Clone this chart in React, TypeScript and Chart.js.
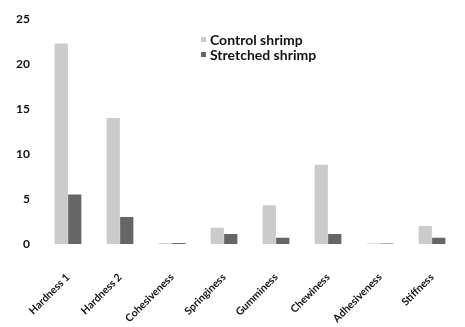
import React, { useEffect, useRef } from "react";
import { Chart, registerables } from "chart.js";

Chart.register(...registerables);

const categories = ["Hardness 1", "Hardness 2", "Cohesiveness", "Springiness", "Gumminess", "Chewiness", "Adhesiveness", "Stiffness"];
const controlShrimp = [22.3, 14.0, 0.1, 1.8, 4.3, 8.8, 0.05, 2.0];
const stretchedShrimp = [5.5, 3.0, 0.1, 1.1, 0.7, 1.1, 0.05, 0.7];
const seriesNames = ["Control shrimp", "Stretched shrimp"];
const yTicks = [0, 5, 10, 15, 20, 25];

const CONTROL_COLOR = "#cbcbcb";
const STRETCHED_COLOR = "#666666";

export default function App() {
  const ref = useRef<HTMLCanvasElement | null>(null);
  useEffect(() => {
    document.body.style.margin = "0";
    const canvas = ref.current;
    if (!canvas) return;
    const chart = new Chart(canvas, {
      type: "bar",
      data: {
        labels: categories,
        datasets: [
          { label: seriesNames[0], data: controlShrimp, backgroundColor: CONTROL_COLOR, categoryPercentage: 0.52, barPercentage: 0.98 },
          { label: seriesNames[1], data: stretchedShrimp, backgroundColor: STRETCHED_COLOR, categoryPercentage: 0.52, barPercentage: 0.98 },
        ],
      },
      options: {
        responsive: false,
        animation: false,
        layout: { padding: { top: 13, left: 14, right: 7, bottom: 0 } },
        plugins: { legend: { display: false }, tooltip: { enabled: false } },
        scales: {
          y: {
            min: yTicks[0],
            max: yTicks[yTicks.length - 1],
            afterBuildTicks: (axis: any) => { axis.ticks = yTicks.map((v) => ({ value: v })); },
            afterFit: (s: any) => { s.width = 28; },
            grid: { display: false, drawTicks: false },
            border: { display: false },
            ticks: { color: "#111", font: { family: "Lato", size: 12, weight: "bold" }, padding: 12 },
          },
          x: {
            afterFit: (s: any) => { s.paddingLeft = 0; s.paddingRight = 0; s.height = 83; },
            grid: { display: false },
            border: { display: false },
            ticks: { color: "#111", font: { family: "Lato", size: 10.5, weight: "bold" }, maxRotation: 45, minRotation: 45, padding: 19 },
          },
        },
      },
    });
    return () => chart.destroy();
  }, []);
  return (
    <div style={{ position: "relative", width: 465, height: 327, background: "#fff" }}>
      <canvas ref={ref} width={465} height={327} />
      <div style={{ position: "absolute", left: 201, top: 32, fontFamily: "Lato", fontWeight: "bold", fontSize: 14, lineHeight: "15px", color: "#111" }}>
        {seriesNames.map((n, i) => (
          <div key={n} style={{ display: "flex", alignItems: "center" }}>
            <span style={{ display: "inline-block", width: 5, height: 5, background: i === 0 ? CONTROL_COLOR : STRETCHED_COLOR, marginRight: 4 }} />
            {n}
          </div>
        ))}
      </div>
    </div>
  );
}
